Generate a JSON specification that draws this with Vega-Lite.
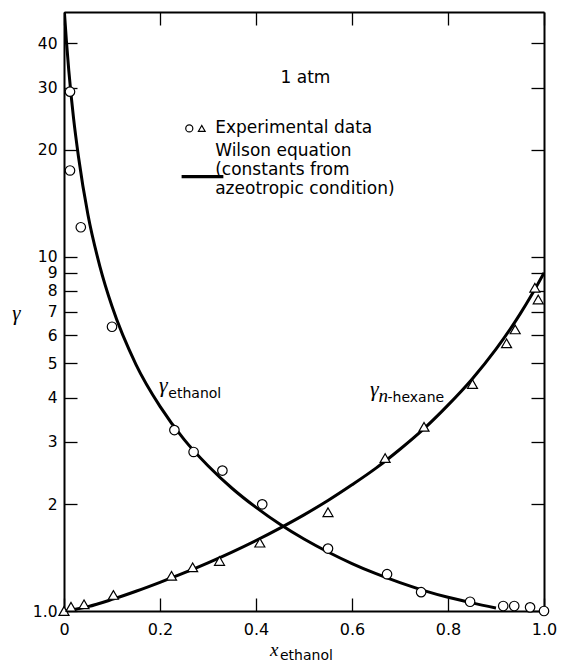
{
  "$schema": "https://vega.github.io/schema/vega-lite/v6.json",
  "width": 480,
  "height": 599,
  "autosize": {"type": "none"},
  "padding": {"left": 64, "top": 12, "right": 17, "bottom": 52},
  "background": "white",
  "config": {"view": {"stroke": null}, "font": "DejaVu Sans"},
  "datasets": {
    "ethanolCurve": [
      {"x": 0, "gamma": 50.8}, {"x": 0.005, "gamma": 40.6}, {"x": 0.01, "gamma": 33.5},
      {"x": 0.02, "gamma": 24.5}, {"x": 0.03, "gamma": 19.2}, {"x": 0.05, "gamma": 13.1},
      {"x": 0.075, "gamma": 9.36}, {"x": 0.1, "gamma": 7.24}, {"x": 0.15, "gamma": 4.96},
      {"x": 0.2, "gamma": 3.78}, {"x": 0.25, "gamma": 3.05}, {"x": 0.3, "gamma": 2.57},
      {"x": 0.35, "gamma": 2.22}, {"x": 0.4, "gamma": 1.96}, {"x": 0.45, "gamma": 1.756},
      {"x": 0.5, "gamma": 1.596}, {"x": 0.55, "gamma": 1.467}, {"x": 0.6, "gamma": 1.361},
      {"x": 0.65, "gamma": 1.274}, {"x": 0.7, "gamma": 1.202}, {"x": 0.75, "gamma": 1.142},
      {"x": 0.8, "gamma": 1.093}, {"x": 0.85, "gamma": 1.054}, {"x": 0.9, "gamma": 1.02}
    ],
    "hexaneCurve": [
      {"x": 0, "gamma": 1.0}, {"x": 0.05, "gamma": 1.029}, {"x": 0.1, "gamma": 1.078},
      {"x": 0.15, "gamma": 1.137}, {"x": 0.2, "gamma": 1.205}, {"x": 0.25, "gamma": 1.281},
      {"x": 0.3, "gamma": 1.368}, {"x": 0.35, "gamma": 1.467}, {"x": 0.4, "gamma": 1.581},
      {"x": 0.45, "gamma": 1.714}, {"x": 0.5, "gamma": 1.868}, {"x": 0.55, "gamma": 2.05},
      {"x": 0.6, "gamma": 2.27}, {"x": 0.65, "gamma": 2.53}, {"x": 0.7, "gamma": 2.86},
      {"x": 0.75, "gamma": 3.27}, {"x": 0.8, "gamma": 3.81}, {"x": 0.85, "gamma": 4.51},
      {"x": 0.9, "gamma": 5.48}, {"x": 0.95, "gamma": 6.88}, {"x": 0.975, "gamma": 7.83},
      {"x": 1.0, "gamma": 9.0}
    ],
    "ethanolExp": [
      {"x": 0.0125, "gamma": 29.2}, {"x": 0.0125, "gamma": 17.5}, {"x": 0.035, "gamma": 12.1},
      {"x": 0.1, "gamma": 6.34}, {"x": 0.23, "gamma": 3.24}, {"x": 0.27, "gamma": 2.81},
      {"x": 0.33, "gamma": 2.49}, {"x": 0.413, "gamma": 2.0}, {"x": 0.55, "gamma": 1.5},
      {"x": 0.673, "gamma": 1.27}, {"x": 0.744, "gamma": 1.13}, {"x": 0.846, "gamma": 1.062},
      {"x": 0.915, "gamma": 1.033}, {"x": 0.938, "gamma": 1.033}, {"x": 0.971, "gamma": 1.024},
      {"x": 1.0, "gamma": 1.0}
    ],
    "hexaneExp": [
      {"x": 0.0, "gamma": 1.0}, {"x": 0.0146, "gamma": 1.028}, {"x": 0.0417, "gamma": 1.044},
      {"x": 0.103, "gamma": 1.11}, {"x": 0.224, "gamma": 1.257}, {"x": 0.268, "gamma": 1.328},
      {"x": 0.324, "gamma": 1.384}, {"x": 0.408, "gamma": 1.559}, {"x": 0.55, "gamma": 1.9},
      {"x": 0.669, "gamma": 2.7}, {"x": 0.75, "gamma": 3.31}, {"x": 0.851, "gamma": 4.37},
      {"x": 0.922, "gamma": 5.69}, {"x": 0.94, "gamma": 6.23}, {"x": 0.981, "gamma": 8.17},
      {"x": 0.988, "gamma": 7.57}
    ],
    "legendCircle": [{"x": 0.261, "gamma": 23.0}],
    "legendTriangle": [{"x": 0.287, "gamma": 23.0}],
    "legendLine": [{"x": 0.245, "x2": 0.332, "gamma": 16.81}],
    "titleText": [{"x": 0.503, "gamma": 30.95, "text": "1 atm"}],
    "legendText": [
      {"x": 0.315, "gamma": 22.28, "text": "Experimental data"},
      {"x": 0.315, "gamma": 19.22, "text": "Wilson equation"},
      {"x": 0.315, "gamma": 16.99, "text": "(constants from"},
      {"x": 0.315, "gamma": 15.02, "text": "azeotropic condition)"}
    ],
    "subText": [
      {"x": 0.2174, "gamma": 3.99, "text": "ethanol"},
      {"x": 0.674, "gamma": 3.9, "text": "-hexane"},
      {"x": 0.45, "gamma": 0.728, "text": "ethanol"}
    ],
    "gammaText": [
      {"x": 0.198, "gamma": 4.15, "text": "γ"},
      {"x": 0.6375, "gamma": 4.05, "text": "γ"}
    ],
    "italicSmall": [
      {"x": 0.655, "gamma": 3.9, "text": "n"},
      {"x": 0.429, "gamma": 0.746, "text": "x"}
    ]
  },
  "resolve": {"axis": {"x": "independent", "y": "independent"}},
  "layer": [
    {
      "data": {"name": "ethanolCurve"},
      "mark": {"type": "line", "color": "black", "strokeWidth": 3, "interpolate": "monotone", "clip": true},
      "encoding": {
        "x": {
          "field": "x", "type": "quantitative",
          "scale": {"domain": [0, 1], "nice": false, "zero": false},
          "axis": {
            "orient": "bottom", "values": [0, 0.2, 0.4, 0.6, 0.8, 1],
            "labelExpr": "datum.value == 0 ? '0' : format(datum.value, '.1f')",
            "tickSize": -13, "tickWidth": 1.3, "tickColor": "black",
            "domainColor": "black", "domainWidth": 2,
            "labelFont": "DejaVu Sans", "labelFontSize": 16, "labelColor": "black",
            "labelPadding": 23, "labelFlush": false, "labelOverlap": false, "labelBound": false,
            "grid": false, "title": null
          }
        },
        "y": {
          "field": "gamma", "type": "quantitative",
          "scale": {"type": "log", "domain": [1, 49], "nice": false},
          "axis": {
            "orient": "left", "values": [1, 2, 3, 4, 5, 6, 7, 8, 9, 10, 20, 30, 40],
            "labelExpr": "datum.value == 1 ? '1.0' : datum.value",
            "tickSize": -13, "tickWidth": 1.3, "tickColor": "black",
            "domainColor": "black", "domainWidth": 2,
            "labelFont": "DejaVu Sans", "labelFontSize": 15.5, "labelColor": "black",
            "labelPadding": 20, "labelFlush": false, "labelOverlap": false, "labelBound": false,
            "grid": false,
            "title": "γ", "titleFont": "Liberation Serif", "titleFontStyle": "italic",
            "titleFontWeight": "normal", "titleFontSize": 21, "titleColor": "black",
            "titleAngle": 0, "titleAlign": "center", "titleBaseline": "alphabetic",
            "titleX": -48, "titleY": 307
          }
        }
      }
    },
    {
      "data": {"name": "hexaneCurve"},
      "mark": {"type": "line", "color": "black", "strokeWidth": 3, "interpolate": "monotone", "clip": true},
      "encoding": {
        "x": {
          "field": "x", "type": "quantitative",
          "axis": {
            "orient": "top", "values": [0, 0.2, 0.4, 0.6, 0.8, 1], "labels": false,
            "tickSize": -13, "tickWidth": 1.3, "tickColor": "black",
            "domainColor": "black", "domainWidth": 2, "grid": false, "title": null
          }
        },
        "y": {
          "field": "gamma", "type": "quantitative",
          "axis": {
            "orient": "right", "values": [1, 2, 3, 4, 5, 6, 7, 8, 9, 10, 20, 30, 40], "labels": false,
            "tickSize": -13, "tickWidth": 1.3, "tickColor": "black",
            "domainColor": "black", "domainWidth": 2, "grid": false, "title": null
          }
        }
      }
    },
    {
      "data": {"name": "ethanolExp"},
      "mark": {"type": "point", "shape": "circle", "size": 90, "filled": false, "fill": "white", "fillOpacity": 1, "stroke": "black", "strokeWidth": 1.2, "opacity": 1},
      "encoding": {
        "x": {"field": "x", "type": "quantitative", "axis": null},
        "y": {"field": "gamma", "type": "quantitative", "axis": null}
      }
    },
    {
      "data": {"name": "hexaneExp"},
      "mark": {"type": "point", "shape": "triangle-up", "size": 100, "filled": false, "fill": "white", "fillOpacity": 1, "stroke": "black", "strokeWidth": 1.2, "opacity": 1},
      "encoding": {
        "x": {"field": "x", "type": "quantitative", "axis": null},
        "y": {"field": "gamma", "type": "quantitative", "axis": null}
      }
    },
    {
      "data": {"name": "legendCircle"},
      "mark": {"type": "point", "shape": "circle", "size": 50, "filled": false, "fill": "white", "fillOpacity": 1, "stroke": "black", "strokeWidth": 1.2, "opacity": 1},
      "encoding": {
        "x": {"field": "x", "type": "quantitative", "axis": null},
        "y": {"field": "gamma", "type": "quantitative", "axis": null}
      }
    },
    {
      "data": {"name": "legendTriangle"},
      "mark": {"type": "point", "shape": "triangle-up", "size": 45, "filled": false, "fill": "white", "fillOpacity": 1, "stroke": "black", "strokeWidth": 1.2, "opacity": 1},
      "encoding": {
        "x": {"field": "x", "type": "quantitative", "axis": null},
        "y": {"field": "gamma", "type": "quantitative", "axis": null}
      }
    },
    {
      "data": {"name": "legendLine"},
      "mark": {"type": "rule", "color": "black", "strokeWidth": 3.2},
      "encoding": {
        "x": {"field": "x", "type": "quantitative", "axis": null},
        "x2": {"field": "x2"},
        "y": {"field": "gamma", "type": "quantitative", "axis": null}
      }
    },
    {
      "data": {"name": "titleText"},
      "mark": {"type": "text", "font": "DejaVu Sans", "fontSize": 17, "align": "center", "baseline": "alphabetic", "color": "black"},
      "encoding": {
        "x": {"field": "x", "type": "quantitative", "axis": null},
        "y": {"field": "gamma", "type": "quantitative", "axis": null},
        "text": {"field": "text"}
      }
    },
    {
      "data": {"name": "legendText"},
      "mark": {"type": "text", "font": "DejaVu Sans", "fontSize": 17, "align": "left", "baseline": "alphabetic", "color": "black"},
      "encoding": {
        "x": {"field": "x", "type": "quantitative", "axis": null},
        "y": {"field": "gamma", "type": "quantitative", "axis": null},
        "text": {"field": "text"}
      }
    },
    {
      "data": {"name": "subText"},
      "mark": {"type": "text", "font": "DejaVu Sans", "fontSize": 14, "align": "left", "baseline": "alphabetic", "color": "black"},
      "encoding": {
        "x": {"field": "x", "type": "quantitative", "axis": null},
        "y": {"field": "gamma", "type": "quantitative", "axis": null},
        "text": {"field": "text"}
      }
    },
    {
      "data": {"name": "gammaText"},
      "mark": {"type": "text", "font": "Liberation Serif", "fontStyle": "italic", "fontSize": 22, "align": "left", "baseline": "alphabetic", "color": "black"},
      "encoding": {
        "x": {"field": "x", "type": "quantitative", "axis": null},
        "y": {"field": "gamma", "type": "quantitative", "axis": null},
        "text": {"field": "text"}
      }
    },
    {
      "data": {"name": "italicSmall"},
      "mark": {"type": "text", "font": "Liberation Serif", "fontStyle": "italic", "fontSize": 19, "align": "left", "baseline": "alphabetic", "color": "black"},
      "encoding": {
        "x": {"field": "x", "type": "quantitative", "axis": null},
        "y": {"field": "gamma", "type": "quantitative", "axis": null},
        "text": {"field": "text"}
      }
    }
  ]
}
